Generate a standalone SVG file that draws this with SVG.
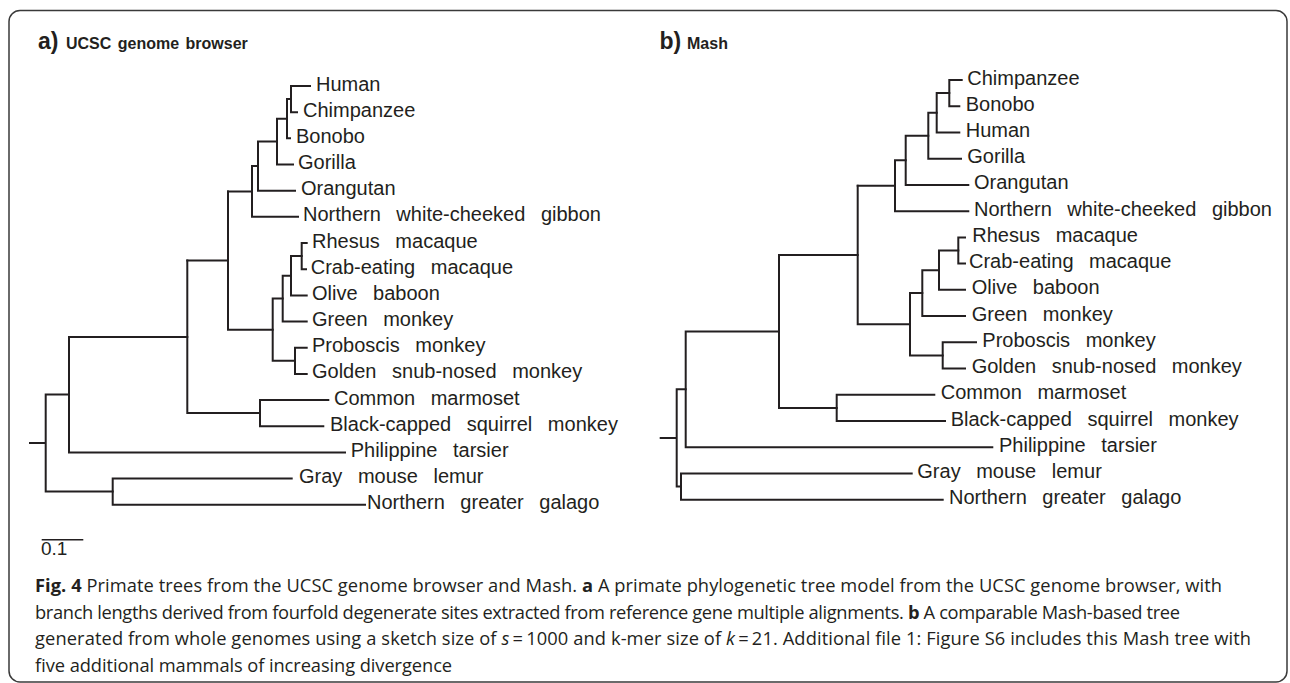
<svg xmlns="http://www.w3.org/2000/svg" width="1290" height="683" viewBox="0 0 1290 683">
<style>
.frame{fill:#fff;stroke:#3a3a3a;stroke-width:1.5}
.br{fill:none;stroke:#231f20;stroke-width:2;stroke-linecap:square}
.lab{font-family:"Liberation Sans",Arial,sans-serif;font-size:20px;fill:#231f20;word-spacing:10px}
.ttl{font-family:"Liberation Sans",Arial,sans-serif;font-weight:bold;fill:#231f20}
.cap{font-family:"Open Sans","Noto Sans",sans-serif;font-size:18.3px;fill:#231f20}
.b{font-weight:bold}
.i{font-style:italic}
</style>
<rect class="frame" x="9" y="10.5" width="1278" height="671.5" rx="11"/>
<g id="titles">
<text class="ttl" x="38" y="48.5" font-size="23">a)</text>
<text class="ttl" x="66" y="48.5" font-size="16" word-spacing="2">UCSC genome browser</text>
<text class="ttl" x="659.5" y="48.5" font-size="23">b)</text>
<text class="ttl" x="687" y="48.5" font-size="16">Mash</text>
</g>
<g id="connectors">
<path class="br" d="M291,86H310M291,112.2H297M291,86V112.2"/>
<path class="br" d="M287,99.1H291M287,138.3H290M287,99.1V138.3"/>
<path class="br" d="M277,118.7H287M277,164.5H293M277,118.7V164.5"/>
<path class="br" d="M258,141.6H277M258,190.7H295M258,141.6V190.7"/>
<path class="br" d="M252,166.1H258M252,216.8H298M252,166.1V216.8"/>
<path class="br" d="M228,191.5H252"/>
<path class="br" d="M301.7,243H306.7M301.7,269.2H306M301.7,243V269.2"/>
<path class="br" d="M291,256.1H301.7M291,295.4H306.7M291,256.1V295.4"/>
<path class="br" d="M282.7,275.7H291M282.7,321.5H306.7M282.7,275.7V321.5"/>
<path class="br" d="M295,347.7H306.7M295,373.9H306.7M295,347.7V373.9"/>
<path class="br" d="M272.7,298.6H282.7M272.7,360.8H295M272.7,298.6V360.8"/>
<path class="br" d="M228,329.7H272.7M228,191.5V329.7"/>
<path class="br" d="M187.3,260.6H228"/>
<path class="br" d="M260,400H328.3M260,426.2H323.3M260,400V426.2"/>
<path class="br" d="M187.3,413.1H260M187.3,260.6V413.1"/>
<path class="br" d="M69,336.9H187.3M69,452.4H345M69,336.9V452.4"/>
<path class="br" d="M112.7,478.5H291.7M112.7,504.7H365M112.7,478.5V504.7"/>
<path class="br" d="M45.7,394.6H69M45.7,491.6H112.7M45.7,394.6V491.6M30,443.1H45.7"/>
<path class="br" d="M949.3,80H961.7M949.3,106.2H959.3M949.3,80V106.2"/>
<path class="br" d="M936.7,93.1H949.3M936.7,132.5H959.3M936.7,93.1V132.5"/>
<path class="br" d="M928.3,112.8H936.7M928.3,158.7H961M928.3,112.8V158.7"/>
<path class="br" d="M905.7,135.75H928.3M905.7,184.9H968.3M905.7,135.75V184.9"/>
<path class="br" d="M895,160.3H905.7M895,211.2H968.3M895,160.3V211.2"/>
<path class="br" d="M857.7,185.75H895"/>
<path class="br" d="M958.3,237.4H965M958.3,263.6H965M958.3,237.4V263.6"/>
<path class="br" d="M939,250.5H958.3M939,289.8H965M939,250.5V289.8"/>
<path class="br" d="M922.3,270.15H939M922.3,316.1H965M922.3,270.15V316.1"/>
<path class="br" d="M942.7,342.3H976M942.7,368.5H965M942.7,342.3V368.5"/>
<path class="br" d="M910,293.1H922.3M910,355.4H942.7M910,293.1V355.4"/>
<path class="br" d="M857.7,324.25H910M857.7,185.75V324.25"/>
<path class="br" d="M779,255H857.7"/>
<path class="br" d="M836.7,394.8H934.3M836.7,421H945M836.7,394.8V421"/>
<path class="br" d="M779,407.9H836.7M779,255V407.9"/>
<path class="br" d="M685.7,331.45H779M685.7,447.2H992.3M685.7,331.45V447.2"/>
<path class="br" d="M681,473.5H911.7M681,499.7H942.7M681,473.5V499.7"/>
<path class="br" d="M676.7,389.3H685.7M676.7,486.6H681M676.7,389.3V486.6M660.7,438H676.7"/>
</g>
<g id="tree-a-leaves" class="lab">
<g id="a-human"><text x="316" y="90.5">Human</text></g>
<g id="a-chimpanzee"><text x="303" y="116.7">Chimpanzee</text></g>
<g id="a-bonobo"><text x="296" y="142.8">Bonobo</text></g>
<g id="a-gorilla"><text x="298" y="169">Gorilla</text></g>
<g id="a-orangutan"><text x="301" y="195.2">Orangutan</text></g>
<g id="a-gibbon"><text x="303" y="221.3">Northern white-cheeked gibbon</text></g>
<g id="a-rhesus"><text x="312" y="247.5">Rhesus macaque</text></g>
<g id="a-crab"><text x="310.7" y="273.7">Crab-eating macaque</text></g>
<g id="a-olive"><text x="312" y="299.9">Olive baboon</text></g>
<g id="a-green"><text x="312" y="326">Green monkey</text></g>
<g id="a-proboscis"><text x="312" y="352.2">Proboscis monkey</text></g>
<g id="a-golden"><text x="312" y="378.4">Golden snub-nosed monkey</text></g>
<g id="a-marmoset"><text x="334" y="404.5">Common marmoset</text></g>
<g id="a-squirrel"><text x="330" y="430.7">Black-capped squirrel monkey</text></g>
<g id="a-tarsier"><text x="350.7" y="456.9">Philippine tarsier</text></g>
<g id="a-lemur"><text x="299" y="483">Gray mouse lemur</text></g>
<g id="a-galago"><text x="367" y="509.2">Northern greater galago</text></g>
</g>
<g id="tree-b-leaves" class="lab">
<g id="b-chimpanzee"><text x="967.3" y="84.5">Chimpanzee</text></g>
<g id="b-bonobo"><text x="965.7" y="110.7">Bonobo</text></g>
<g id="b-human"><text x="965.7" y="137">Human</text></g>
<g id="b-gorilla"><text x="967.3" y="163.2">Gorilla</text></g>
<g id="b-orangutan"><text x="974" y="189.4">Orangutan</text></g>
<g id="b-gibbon"><text x="974" y="215.7">Northern white-cheeked gibbon</text></g>
<g id="b-rhesus"><text x="972.3" y="241.9">Rhesus macaque</text></g>
<g id="b-crab"><text x="969" y="268.1">Crab-eating macaque</text></g>
<g id="b-olive"><text x="971.7" y="294.3">Olive baboon</text></g>
<g id="b-green"><text x="971.7" y="320.6">Green monkey</text></g>
<g id="b-proboscis"><text x="982.3" y="346.8">Proboscis monkey</text></g>
<g id="b-golden"><text x="971.7" y="373">Golden snub-nosed monkey</text></g>
<g id="b-marmoset"><text x="940.7" y="399.3">Common marmoset</text></g>
<g id="b-squirrel"><text x="950.7" y="425.5">Black-capped squirrel monkey</text></g>
<g id="b-tarsier"><text x="999" y="451.7">Philippine tarsier</text></g>
<g id="b-lemur"><text x="917.3" y="478">Gray mouse lemur</text></g>
<g id="b-galago"><text x="949" y="504.2">Northern greater galago</text></g>
</g>
<g id="scale">
<path d="M41.7,539.7H83.3" stroke="#231f20" stroke-width="1.5"/>
<text x="41" y="554.7" font-family="Liberation Sans,Arial,sans-serif" font-size="19" fill="#231f20">0.1</text>
</g>
<g id="caption" class="cap">
<text x="35" y="592" textLength="1187"><tspan class="b">Fig. 4</tspan> Primate trees from the UCSC genome browser and Mash. <tspan class="b">a</tspan> A primate phylogenetic tree model from the UCSC genome browser, with</text>
<text x="35" y="618.5" textLength="1145">branch lengths derived from fourfold degenerate sites extracted from reference gene multiple alignments. <tspan class="b">b</tspan> A comparable Mash-based tree</text>
<text x="35" y="645" textLength="1216">generated from whole genomes using a sketch size of <tspan class="i">s</tspan>&#8201;=&#8201;1000 and k-mer size of <tspan class="i">k</tspan>&#8201;=&#8201;21. Additional file 1: Figure S6 includes this Mash tree with</text>
<text x="35" y="671.5" textLength="417">five additional mammals of increasing divergence</text>
</g>
</svg>
